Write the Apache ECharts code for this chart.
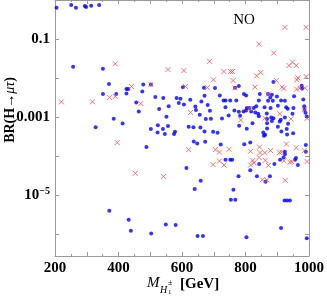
<!DOCTYPE html>
<html><head><meta charset="utf-8">
<script src="https://cdn.jsdelivr.net/npm/echarts@6/dist/echarts.min.js"></script>
<style>html,body{margin:0;padding:0;background:#fff}#c{width:327px;height:303px}</style>
</head><body><div id="c"></div>
<script>
// X axis labelled ticks (GeV)
const xLabelTicks = [200, 400, 600, 800, 1000];
// Y axis labelled decades (exponent -> label)
const yLabelExps = [-1, -3, -5];

// Blue points: M_H1 (GeV) and BR(H->mu tau)
const blueMass = [205,251,266,294,298,314,339,257,351,370,351,393,425,431,425,478,475,502,456,464,516,541,583,595,528,558,551,385,328,413,502,524,540,523,546,556,578,575,488,371,432,439,503,549,580,649,666,803,912,993,754,768,923,931,940,614,659,640,762,778,815,836,877,863,737,752,758,843,891,909,924,924,956,965,990,990,637,648,673,722,796,815,920,959,603,669,704,767,779,802,795,845,888,871,878,883,977,978,953,590,606,626,642,661,671,681,719,731,737,752,771,737,644,688,656,675,691,726,747,779,804,812,826,834,842,860,871,886,879,899,902,912,924,928,951,982,985,986,989,993,802,818,831,840,783,794,765,842,867,881,888,911,924,948,933,868,822,868,883,908,934,621,636,658,671,698,712,780,804,856,868,862,858,902,913,930,931,950];
const blueBR = [0.63,0.74,0.63,0.70,0.66,0.71,0.74,0.0196,0.0174,0.00706,0.00392,0.00392,0.00526,0.00526,0.00407,0.0069,0.00457,0.0069,0.00239,0.0014,0.00329,0.0031,0.0031,0.00297,0.00162,0.00191,0.00103,0.000916,0.000561,0.000693,0.000499,0.000624,0.000499,0.000408,0.000374,0.000596,0.000426,0.000372,0.000174,4.06e-6,2.39e-6,1.26e-6,1.07e-6,1.81e-6,1.75e-6,9.2e-7,9.2e-7,8.6e-7,1.47e-6,8.1e-7,7.8e-6,7.8e-6,7.5e-6,7.5e-6,7.5e-6,5.05e-5,2.38e-5,1.46e-5,1.4e-5,3.1e-5,4.42e-5,3.1e-5,3.1e-5,2.24e-5,8.2e-5,8.2e-5,8.2e-5,6.36e-5,6.36e-5,8.2e-5,1.31e-4,1.13e-4,8.2e-5,6.0e-5,1.95e-4,1.31e-4,2.4e-4,2.14e-4,2.36e-4,2.01e-4,2.06e-4,2.26e-4,9.4e-5,9.1e-5,0.00591,0.00568,0.00558,0.00568,0.00628,0.00361,0.00392,0.00392,0.00794,0.00392,0.00321,0.00376,0.0064,0.00542,0.00344,0.00231,0.00212,0.00281,0.00189,0.00254,0.00355,0.00205,0.00361,0.00269,0.00269,0.00269,0.00269,0.00182,0.00153,0.00147,0.00116,0.0009,0.000916,0.00093,0.00111,0.00138,0.00172,0.00172,0.00174,0.00193,0.00269,0.00182,0.00264,0.00264,0.00174,0.0034,0.00197,0.00269,0.00264,0.00182,0.00174,0.00285,0.00193,0.00156,0.0013,0.00105,0.00149,0.00141,0.00133,0.00123,0.00109,0.00141,0.00149,0.00107,0.00125,0.00099,0.00095,0.00086,0.00099,0.00123,0.00165,0.0009,0.00071,0.00071,0.00081,0.00078,0.00068,0.00057,0.00056,0.00055,0.000434,0.000426,0.000402,0.000607,0.000508,0.000408,0.000518,0.000357,0.000336,0.00057,0.000434,0.000499,0.000363,0.000394];

// Red crosses
const redMass = [390,220,318,372,390,441,470,502,556,396,453,542,924,991,843,889,687,606,732,753,759,848,835,937,948,960,962,965,991,699,761,897,611,680,767,830,872,915,921,961,971,988,627,785,812,861,908,943,985,994,929,960,844,748,621,705,718,816,846,861,879,907,914,985,994,698,718,732,816,823,827,843,862,872,921,940,946,853,867,925];
const redBR = [0.0233,0.00249,0.00249,0.00321,0.0034,0.00614,0.00224,0.0069,0.0167,2.26e-4,3.7e-5,3.06e-5,0.2,0.2,0.0745,0.0439,0.027,0.0157,0.0148,0.0148,0.0148,0.014,0.0115,0.0211,0.0258,0.0211,0.0091,0.0102,0.011,0.0091,0.00873,0.00873,0.00614,0.00578,0.00568,0.00591,0.00394,0.00591,0.00546,0.00526,0.00558,0.00558,0.00133,0.00085,0.00168,0.00095,0.00123,0.00091,0.00156,0.00094,2.07e-4,1.66e-4,1.73e-4,1.52e-4,1.49e-4,1.49e-4,1.29e-4,1.35e-4,1.25e-4,1.25e-4,1.41e-4,1.25e-4,1.29e-4,1.41e-4,7.4e-5,6.17e-5,7.6e-5,6.03e-5,6.03e-5,7.9e-5,6.85e-5,9.4e-5,7.9e-5,5.9e-5,7.7e-5,7.07e-5,7.3e-5,2.52e-5,2.52e-5,2.45e-5];

const SERIF = '"Liberation Serif","DejaVu Serif",serif';
const axisGray = '#9a9a9a';

function yLabel(v) {
  const l = Math.log10(v), e = Math.round(l);
  if (Math.abs(l - e) > 0.01 || yLabelExps.indexOf(e) < 0) return '';
  if (e >= -3) return String(Math.pow(10, e).toFixed(-e));
  return '{b|10}{s|' + '\u2212' + (-e) + '}';
}
function xLabel(v) { return xLabelTicks.indexOf(v) >= 0 ? String(v) : ''; }

const chart = echarts.init(document.getElementById('c'), null, {renderer: 'canvas'});
const axisCommon = {
  axisLine: {show: true, lineStyle: {color: axisGray, width: 1}},
  axisTick: {show: true, inside: true, length: 4, lineStyle: {color: axisGray}},
  splitLine: {show: false}
};
chart.setOption({
  animation: false,
  grid: {left: 55, right: 16, top: 0, bottom: 47, containLabel: false},
  xAxis: [
    Object.assign({type: 'value', min: 200, max: 1000, interval: 100, position: 'bottom',
      minorTick: {show: true, splitNumber: 2, length: 2, lineStyle: {color: axisGray}},
      axisLabel: {formatter: xLabel, color: '#000', fontFamily: SERIF, fontWeight: 'bold', fontSize: 15, margin: 5}}, axisCommon),
    Object.assign({type: 'value', min: 200, max: 1000, interval: 100, position: 'top',
      minorTick: {show: true, splitNumber: 2, length: 2, lineStyle: {color: axisGray}},
      axisLabel: {show: false}}, axisCommon)
  ],
  yAxis: [
    Object.assign({type: 'log', logBase: 10, min: 2.84e-7, max: 1, position: 'left',
      axisLabel: {formatter: yLabel, color: '#000', fontFamily: SERIF, fontWeight: 'bold', fontSize: 15, margin: 5,
        rich: {b: {fontFamily: SERIF, fontWeight: 'bold', fontSize: 15, color: '#000'},
               s: {fontFamily: SERIF, fontWeight: 'bold', fontSize: 10, color: '#000', verticalAlign: 'top', padding: [0, 0, 8, 0]}}}}, axisCommon),
    Object.assign({type: 'log', logBase: 10, min: 2.84e-7, max: 1, position: 'right',
      axisLabel: {show: false}}, axisCommon)
  ],
  series: [
    {type: 'scatter', xAxisIndex: 0, yAxisIndex: 0, symbol: 'circle', symbolSize: 4,
      itemStyle: {color: '#0000ff'}, silent: true,
      data: blueMass.map((m, i) => [m, blueBR[i]])},
    {type: 'scatter', xAxisIndex: 0, yAxisIndex: 0, symbol: 'path://M0 0L10 10M10 0L0 10', symbolSize: 5,
      itemStyle: {color: 'rgba(255,80,80,0.25)', borderColor: '#ff4d4d', borderWidth: 1}, silent: true,
      data: redMass.map((m, i) => [m, redBR[i]])}
  ],
  graphic: [
    {type: 'text', x: 244, y: 20, silent: true,
      style: {text: 'NO', font: '15px ' + SERIF, fill: '#000', align: 'center', verticalAlign: 'middle'}},
    {type: 'text', x: 10, y: 110, rotation: Math.PI / 2, silent: true,
      style: {text: '{b|BR(H\u2192}{i|\u03bc\u03c4}{b|)}', align: 'center', verticalAlign: 'middle',
        rich: {b: {font: 'bold 14px ' + SERIF, fill: '#000'}, i: {font: 'italic 14px ' + SERIF, fill: '#000'}}}},
    {type: 'text', x: 147, y: 291, silent: true,
      style: {text: 'M', font: 'italic 15px ' + SERIF, fill: '#000', verticalAlign: 'bottom'}},
    {type: 'text', x: 160, y: 295, silent: true,
      style: {text: 'H', font: 'italic 10px ' + SERIF, fill: '#000', verticalAlign: 'bottom'}},
    {type: 'text', x: 168, y: 287, silent: true,
      style: {text: '\u00b1', font: '8px ' + SERIF, fill: '#000', verticalAlign: 'bottom'}},
    {type: 'text', x: 168, y: 296, silent: true,
      style: {text: '1', font: '7px ' + SERIF, fill: '#000', verticalAlign: 'bottom'}},
    {type: 'text', x: 180, y: 292, silent: true,
      style: {text: '[GeV]', font: 'bold 15px ' + SERIF, fill: '#000', verticalAlign: 'bottom'}}
  ]
});
</script></body></html>
